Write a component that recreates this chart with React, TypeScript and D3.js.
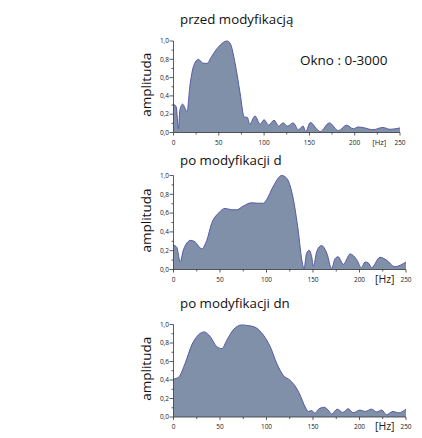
import React, { useRef, useEffect } from "react";
import * as d3 from "d3";

// frequency [Hz] / amplitude pairs
const hz1 = [0, 3, 5.5, 7, 10, 15, 18, 22, 27.5, 32, 37, 42, 50, 59, 62.5, 68, 73.5, 78, 81.6, 84, 90, 95.6, 100, 105, 111, 116, 121, 126, 132, 138, 143, 146, 151, 158, 162, 172, 182, 191, 198.5, 204, 211, 220, 231, 239, 250];
const amp1 = [0.31, 0.28, 0.04, 0.24, 0.31, 0.23, 0.5, 0.72, 0.8, 0.76, 0.755, 0.83, 0.94, 1.0, 0.975, 0.755, 0.43, 0.17, 0.165, 0.09, 0.18, 0.09, 0.14, 0.08, 0.135, 0.07, 0.105, 0.07, 0.105, 0.03, 0.07, 0.01, 0.11, 0.04, 0.01, 0.105, 0.02, 0.08, 0.04, 0.06, 0.05, 0.03, 0.055, 0.035, 0.05];

const hz2 = [0, 3.6, 7.2, 10.7, 18.6, 23, 30.4, 35.8, 41, 48.4, 55.5, 62.7, 68, 75, 84, 91, 96.7, 100, 107, 116.4, 121.8, 129, 134, 138, 140.4, 143, 145.8, 148.6, 150.4, 154, 159, 165, 170, 173.7, 177, 182.6, 190, 197, 202, 206, 209.5, 213, 222, 229, 238, 250];
const amp2 = [0.26, 0.235, 0.08, 0.21, 0.31, 0.295, 0.22, 0.31, 0.49, 0.6, 0.65, 0.635, 0.635, 0.675, 0.71, 0.705, 0.705, 0.74, 0.88, 1.0, 0.97, 0.74, 0.42, 0.1, 0.01, 0.17, 0.205, 0.135, 0.035, 0.19, 0.255, 0.17, 0.01, 0.115, 0.135, 0.055, 0.165, 0.105, 0.02, 0.08, 0.07, 0.02, 0.13, 0.1, 0.03, 0.08];

const hz3 = [0, 5.4, 12.5, 19.7, 27, 33, 39.4, 46.6, 52, 57.3, 64.5, 73.4, 78.8, 87.8, 96.7, 104, 111, 118, 125, 130.7, 136, 141.5, 145, 148.6, 152, 156, 162, 167.6, 170, 176, 182, 188, 193, 200.5, 206, 213, 218.5, 224, 229, 236, 242, 250];
const amp3 = [0.41, 0.43, 0.58, 0.78, 0.89, 0.92, 0.87, 0.76, 0.74, 0.83, 0.945, 0.995, 0.99, 0.97, 0.885, 0.76, 0.58, 0.45, 0.4, 0.335, 0.24, 0.11, 0.06, 0.07, 0.04, 0.085, 0.105, 0.06, 0.03, 0.085, 0.05, 0.09, 0.045, 0.075, 0.06, 0.085, 0.055, 0.075, 0.025, 0.06, 0.045, 0.085];

const titles = ["przed modyfikacją", "po modyfikacji d", "po modyfikacji dn"];
const xTicks = [0, 50, 100, 150, 200, 250];
const yTicks = [0, 0.2, 0.4, 0.6, 0.8, 1.0];

const panels = [
  { hz: hz1, amp: amp1, left: 173.5, right: 400, top: 41, bottom: 132.5, titleY: 24, hzSize: 7.5 },
  { hz: hz2, amp: amp2, left: 173.5, right: 406, top: 175.5, bottom: 269.5, titleY: 165, hzSize: 10.5 },
  { hz: hz3, amp: amp3, left: 173.5, right: 406, top: 324.5, bottom: 417, titleY: 308, hzSize: 10.5 },
];

const font = "'Open Sans', sans-serif";

const App = () => {
  const ref = useRef<SVGSVGElement>(null);

  useEffect(() => {
    const svg = d3.select(ref.current);
    svg.selectAll("*").remove();
    svg.append("rect").attr("width", 422).attr("height", 438).attr("fill", "#fff");

    panels.forEach((p, i) => {
      const x = d3.scaleLinear().domain([0, 250]).range([p.left, p.right]);
      const y = d3.scaleLinear().domain([0, 1]).range([p.bottom, p.top]);
      const g = svg.append("g");
      const pts = p.hz.map((h, j) => [h, p.amp[j]] as [number, number]);

      const area = d3
        .area<[number, number]>()
        .x((d) => x(d[0]))
        .y0(y(0))
        .y1((d) => y(d[1]))
        .curve(d3.curveMonotoneX);
      const line = d3
        .line<[number, number]>()
        .x((d) => x(d[0]))
        .y((d) => y(d[1]))
        .curve(d3.curveMonotoneX);

      g.append("path").datum(pts).attr("d", area).attr("fill", "#8090a8");
      g.append("path")
        .datum(pts)
        .attr("d", line)
        .attr("fill", "none")
        .attr("stroke", "#5558a8")
        .attr("stroke-width", 1);

      // x axis
      const xAxis = g.append("g").attr("transform", `translate(0,${p.bottom})`);
      xAxis
        .append("line")
        .attr("x1", p.left)
        .attr("x2", p.right)
        .attr("stroke", "#333")
        .attr("stroke-width", 0.8);
      d3.range(0, 251, 25).forEach((t) => {
        xAxis
          .append("line")
          .attr("x1", x(t))
          .attr("x2", x(t))
          .attr("y1", 0)
          .attr("y2", t % 50 === 0 ? 3 : 2)
          .attr("stroke", "#333")
          .attr("stroke-width", 0.8);
      });
      xTicks.forEach((t) => {
        xAxis
          .append("text")
          .attr("x", x(t))
          .attr("y", 12)
          .attr("text-anchor", "middle")
          .attr("font-family", font)
          .attr("font-size", 6.5)
          .attr("fill", "#222")
          .text(t);
      });
      xAxis
        .append("text")
        .attr("x", (x(200) + x(250)) / 2 + 2)
        .attr("y", p.hzSize > 8 ? 13 : 12)
        .attr("text-anchor", "middle")
        .attr("font-family", font)
        .attr("font-size", p.hzSize)
        .attr("fill", "#222")
        .text("[Hz]");

      // y axis
      const yAxis = g.append("g").attr("transform", `translate(${p.left},0)`);
      yAxis
        .append("line")
        .attr("y1", p.top)
        .attr("y2", p.bottom)
        .attr("stroke", "#333")
        .attr("stroke-width", 0.8);
      d3.range(0, 11).forEach((k) => {
        const v = k / 10;
        yAxis
          .append("line")
          .attr("x1", k % 2 === 0 ? -4 : -2)
          .attr("x2", 0)
          .attr("y1", y(v))
          .attr("y2", y(v))
          .attr("stroke", "#333")
          .attr("stroke-width", 0.8);
      });
      yTicks.forEach((t) => {
        yAxis
          .append("text")
          .attr("x", -4.5)
          .attr("y", y(t) + 2.2)
          .attr("text-anchor", "end")
          .attr("font-family", font)
          .attr("font-size", 6.5)
          .attr("fill", "#222")
          .text(d3.format(".1f")(t).replace(".", ","));
      });

      g.append("text")
        .attr("transform", `translate(${151},${(p.top + p.bottom) / 2 - 2}) rotate(-90)`)
        .attr("text-anchor", "middle")
        .attr("font-family", font)
        .attr("font-size", 13.5)
        .attr("fill", "#111")
        .text("amplituda");

      g.append("text")
        .attr("x", 180)
        .attr("y", p.titleY)
        .attr("font-family", font)
        .attr("font-size", 13.3)
        .attr("fill", "#111")
        .text(titles[i]);
    });

    svg
      .append("text")
      .attr("x", 300)
      .attr("y", 65)
      .attr("font-family", font)
      .attr("font-size", 13.5)
      .attr("fill", "#111")
      .text("Okno : 0-3000");
  }, []);

  return (
    <svg
      ref={ref}
      width={422}
      height={438}
      style={{ position: "absolute", left: 0, top: 0 }}
    />
  );
};

export default App;
